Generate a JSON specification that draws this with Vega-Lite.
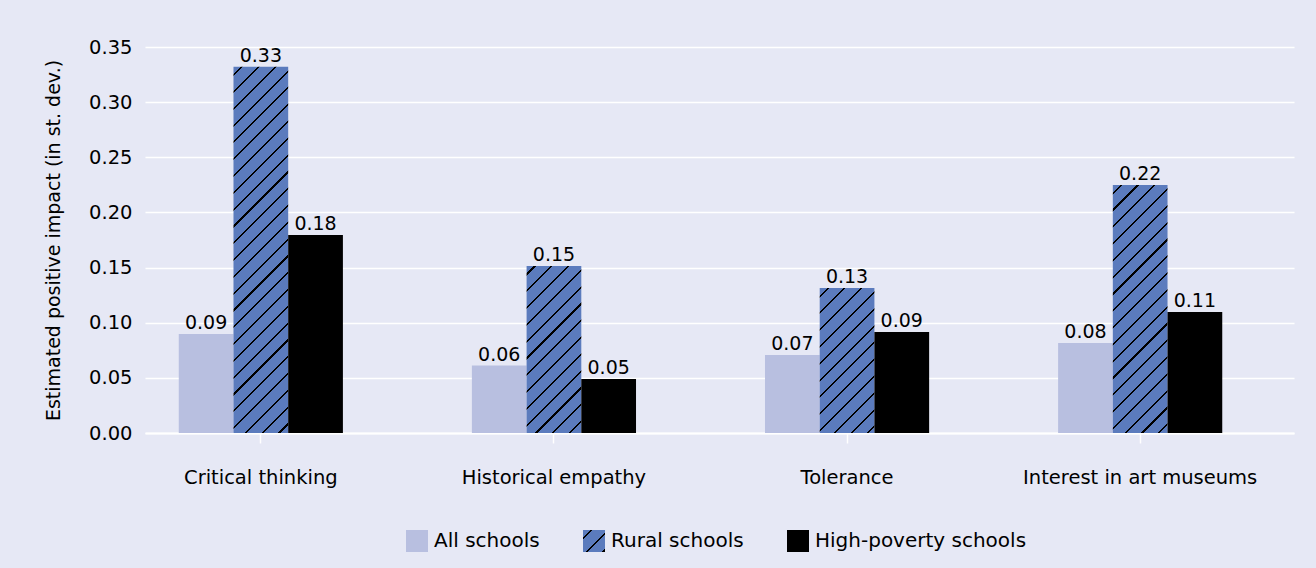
{
  "$schema": "https://vega.github.io/schema/vega-lite/v6.json",
  "autosize": {"type": "none"},
  "width": 1149,
  "height": 386,
  "padding": {"left": 145, "top": 47, "right": 22, "bottom": 135},
  "background": "#e6e8f5",
  "config": {"font": "DejaVu Sans", "view": {"stroke": null}},
  "data": {"values": [
    {"category": "Critical thinking", "group": "All schools", "value": 0.0898, "label": "0.09"},
    {"category": "Critical thinking", "group": "Rural schools", "value": 0.332, "label": "0.33"},
    {"category": "Critical thinking", "group": "High-poverty schools", "value": 0.1795, "label": "0.18"},
    {"category": "Historical empathy", "group": "All schools", "value": 0.0612, "label": "0.06"},
    {"category": "Historical empathy", "group": "Rural schools", "value": 0.1514, "label": "0.15"},
    {"category": "Historical empathy", "group": "High-poverty schools", "value": 0.049, "label": "0.05"},
    {"category": "Tolerance", "group": "All schools", "value": 0.0707, "label": "0.07"},
    {"category": "Tolerance", "group": "Rural schools", "value": 0.1315, "label": "0.13"},
    {"category": "Tolerance", "group": "High-poverty schools", "value": 0.0916, "label": "0.09"},
    {"category": "Interest in art museums", "group": "All schools", "value": 0.0816, "label": "0.08"},
    {"category": "Interest in art museums", "group": "Rural schools", "value": 0.2249, "label": "0.22"},
    {"category": "Interest in art museums", "group": "High-poverty schools", "value": 0.1097, "label": "0.11"}
  ]},
  "encoding": {
    "x": {
      "field": "category", "type": "nominal",
      "sort": ["Critical thinking", "Historical empathy", "Tolerance", "Interest in art museums"],
      "scale": {"paddingInner": 0.44, "paddingOuter": 0.18, "align": 0.32},
      "axis": {"title": null, "labelAngle": 0, "labelFontSize": 19.5, "labelPadding": 25, "labelColor": "#000000", "labelLimit": 0,
               "tickSize": 10, "tickColor": "#ffffff", "tickWidth": 1.5, "domainColor": "#ffffff", "domainWidth": 2, "grid": false}
    },
    "xOffset": {"field": "group", "type": "nominal", "sort": ["All schools", "Rural schools", "High-poverty schools"]},
    "y": {
      "field": "value", "type": "quantitative",
      "scale": {"domain": [0, 0.35]},
      "axis": {"values": [0, 0.05, 0.1, 0.15, 0.2, 0.25, 0.3, 0.35], "format": ".2f", "grid": true, "gridColor": "#ffffff", "gridWidth": 1.5,
               "ticks": false, "domain": false, "labelFontSize": 19.5, "labelPadding": 13, "labelColor": "#000000",
               "title": "Estimated positive impact (in st. dev.)", "titleFontSize": 19, "titleFontWeight": "normal", "titleColor": "#000000", "titlePadding": 25}
    }
  },
  "layer": [
    {
      "mark": {"type": "bar"},
      "encoding": {
        "color": {
          "field": "group", "type": "nominal",
          "scale": {"domain": ["All schools", "Rural schools", "High-poverty schools"], "range": ["#b8bfe0",
            {"expr": "{gradient:'linear',x1:0,y1:0,x2:9.5455,y2:9.5455,stops:[{offset:0,color:'#5b7bbd'},{offset:0.0175,color:'#5b7bbd'},{offset:0.0175,color:'#000000'},{offset:0.0225,color:'#000000'},{offset:0.0225,color:'#5b7bbd'},{offset:0.0575,color:'#5b7bbd'},{offset:0.0575,color:'#000000'},{offset:0.0625,color:'#000000'},{offset:0.0625,color:'#5b7bbd'},{offset:0.0975,color:'#5b7bbd'},{offset:0.0975,color:'#000000'},{offset:0.1025,color:'#000000'},{offset:0.1025,color:'#5b7bbd'}]}"},
            "#000000"]},
          "legend": {
            "orient": "none", "legendX": 261, "legendY": 483, "direction": "horizontal", "title": null,
            "symbolType": "square", "symbolSize": 484, "symbolStrokeWidth": 0, "labelFontSize": 20, "labelColor": "#000000", "labelLimit": 0,
            "labelOffset": 6, "columnPadding": 43, "padding": 0
          },
          "condition": [
            {"test": "datum.group === 'Rural schools' && datum.category === 'Critical thinking'",
             "value": {"gradient": "linear", "x1": 0, "y1": 0, "x2": 0.1677, "y2": 1.1222, "stops": [
              {"offset":0,"color":"#5b7bbd"},
              {"offset":0.0175,"color":"#5b7bbd"},{"offset":0.0175,"color":"#000000"},{"offset":0.0225,"color":"#000000"},{"offset":0.0225,"color":"#5b7bbd"},
              {"offset":0.0575,"color":"#5b7bbd"},{"offset":0.0575,"color":"#000000"},{"offset":0.0625,"color":"#000000"},{"offset":0.0625,"color":"#5b7bbd"},
              {"offset":0.0975,"color":"#5b7bbd"},{"offset":0.0975,"color":"#000000"},{"offset":0.1025,"color":"#000000"},{"offset":0.1025,"color":"#5b7bbd"},
              {"offset":0.1375,"color":"#5b7bbd"},{"offset":0.1375,"color":"#000000"},{"offset":0.1425,"color":"#000000"},{"offset":0.1425,"color":"#5b7bbd"},
              {"offset":0.1775,"color":"#5b7bbd"},{"offset":0.1775,"color":"#000000"},{"offset":0.1825,"color":"#000000"},{"offset":0.1825,"color":"#5b7bbd"},
              {"offset":0.2175,"color":"#5b7bbd"},{"offset":0.2175,"color":"#000000"},{"offset":0.2225,"color":"#000000"},{"offset":0.2225,"color":"#5b7bbd"},
              {"offset":0.2575,"color":"#5b7bbd"},{"offset":0.2575,"color":"#000000"},{"offset":0.2625,"color":"#000000"},{"offset":0.2625,"color":"#5b7bbd"},
              {"offset":0.2975,"color":"#5b7bbd"},{"offset":0.2975,"color":"#000000"},{"offset":0.3025,"color":"#000000"},{"offset":0.3025,"color":"#5b7bbd"},
              {"offset":0.3375,"color":"#5b7bbd"},{"offset":0.3375,"color":"#000000"},{"offset":0.3425,"color":"#000000"},{"offset":0.3425,"color":"#5b7bbd"},
              {"offset":0.3775,"color":"#5b7bbd"},{"offset":0.3775,"color":"#000000"},{"offset":0.3825,"color":"#000000"},{"offset":0.3825,"color":"#5b7bbd"},
              {"offset":0.4175,"color":"#5b7bbd"},{"offset":0.4175,"color":"#000000"},{"offset":0.4225,"color":"#000000"},{"offset":0.4225,"color":"#5b7bbd"},
              {"offset":0.4575,"color":"#5b7bbd"},{"offset":0.4575,"color":"#000000"},{"offset":0.4625,"color":"#000000"},{"offset":0.4625,"color":"#5b7bbd"},
              {"offset":0.4975,"color":"#5b7bbd"},{"offset":0.4975,"color":"#000000"},{"offset":0.5025,"color":"#000000"},{"offset":0.5025,"color":"#5b7bbd"},
              {"offset":0.5375,"color":"#5b7bbd"},{"offset":0.5375,"color":"#000000"},{"offset":0.5425,"color":"#000000"},{"offset":0.5425,"color":"#5b7bbd"},
              {"offset":0.5775,"color":"#5b7bbd"},{"offset":0.5775,"color":"#000000"},{"offset":0.5825,"color":"#000000"},{"offset":0.5825,"color":"#5b7bbd"},
              {"offset":0.6175,"color":"#5b7bbd"},{"offset":0.6175,"color":"#000000"},{"offset":0.6225,"color":"#000000"},{"offset":0.6225,"color":"#5b7bbd"},
              {"offset":0.6575,"color":"#5b7bbd"},{"offset":0.6575,"color":"#000000"},{"offset":0.6625,"color":"#000000"},{"offset":0.6625,"color":"#5b7bbd"},
              {"offset":0.6975,"color":"#5b7bbd"},{"offset":0.6975,"color":"#000000"},{"offset":0.7025,"color":"#000000"},{"offset":0.7025,"color":"#5b7bbd"},
              {"offset":0.7375,"color":"#5b7bbd"},{"offset":0.7375,"color":"#000000"},{"offset":0.7425,"color":"#000000"},{"offset":0.7425,"color":"#5b7bbd"},
              {"offset":0.7775,"color":"#5b7bbd"},{"offset":0.7775,"color":"#000000"},{"offset":0.7825,"color":"#000000"},{"offset":0.7825,"color":"#5b7bbd"},
              {"offset":0.8175,"color":"#5b7bbd"},{"offset":0.8175,"color":"#000000"},{"offset":0.8225,"color":"#000000"},{"offset":0.8225,"color":"#5b7bbd"},
              {"offset":0.8575,"color":"#5b7bbd"},{"offset":0.8575,"color":"#000000"},{"offset":0.8625,"color":"#000000"},{"offset":0.8625,"color":"#5b7bbd"},
              {"offset":0.8975,"color":"#5b7bbd"},{"offset":0.8975,"color":"#000000"},{"offset":0.9025,"color":"#000000"},{"offset":0.9025,"color":"#5b7bbd"},
              {"offset":0.9375,"color":"#5b7bbd"},{"offset":0.9375,"color":"#000000"},{"offset":0.9425,"color":"#000000"},{"offset":0.9425,"color":"#5b7bbd"},
              {"offset":0.9775,"color":"#5b7bbd"},{"offset":0.9775,"color":"#000000"},{"offset":0.9825,"color":"#000000"},{"offset":0.9825,"color":"#5b7bbd"}
             ]}},
            {"test": "datum.group === 'Rural schools' && datum.category === 'Historical empathy'",
             "value": {"gradient": "linear", "x1": 0, "y1": 0, "x2": 0.7443, "y2": 2.2715, "stops": [
              {"offset":0,"color":"#5b7bbd"},
              {"offset":0.0175,"color":"#5b7bbd"},{"offset":0.0175,"color":"#000000"},{"offset":0.0225,"color":"#000000"},{"offset":0.0225,"color":"#5b7bbd"},
              {"offset":0.0575,"color":"#5b7bbd"},{"offset":0.0575,"color":"#000000"},{"offset":0.0625,"color":"#000000"},{"offset":0.0625,"color":"#5b7bbd"},
              {"offset":0.0975,"color":"#5b7bbd"},{"offset":0.0975,"color":"#000000"},{"offset":0.1025,"color":"#000000"},{"offset":0.1025,"color":"#5b7bbd"},
              {"offset":0.1375,"color":"#5b7bbd"},{"offset":0.1375,"color":"#000000"},{"offset":0.1425,"color":"#000000"},{"offset":0.1425,"color":"#5b7bbd"},
              {"offset":0.1775,"color":"#5b7bbd"},{"offset":0.1775,"color":"#000000"},{"offset":0.1825,"color":"#000000"},{"offset":0.1825,"color":"#5b7bbd"},
              {"offset":0.2175,"color":"#5b7bbd"},{"offset":0.2175,"color":"#000000"},{"offset":0.2225,"color":"#000000"},{"offset":0.2225,"color":"#5b7bbd"},
              {"offset":0.2575,"color":"#5b7bbd"},{"offset":0.2575,"color":"#000000"},{"offset":0.2625,"color":"#000000"},{"offset":0.2625,"color":"#5b7bbd"},
              {"offset":0.2975,"color":"#5b7bbd"},{"offset":0.2975,"color":"#000000"},{"offset":0.3025,"color":"#000000"},{"offset":0.3025,"color":"#5b7bbd"},
              {"offset":0.3375,"color":"#5b7bbd"},{"offset":0.3375,"color":"#000000"},{"offset":0.3425,"color":"#000000"},{"offset":0.3425,"color":"#5b7bbd"},
              {"offset":0.3775,"color":"#5b7bbd"},{"offset":0.3775,"color":"#000000"},{"offset":0.3825,"color":"#000000"},{"offset":0.3825,"color":"#5b7bbd"},
              {"offset":0.4175,"color":"#5b7bbd"},{"offset":0.4175,"color":"#000000"},{"offset":0.4225,"color":"#000000"},{"offset":0.4225,"color":"#5b7bbd"},
              {"offset":0.4575,"color":"#5b7bbd"},{"offset":0.4575,"color":"#000000"},{"offset":0.4625,"color":"#000000"},{"offset":0.4625,"color":"#5b7bbd"},
              {"offset":0.4975,"color":"#5b7bbd"},{"offset":0.4975,"color":"#000000"},{"offset":0.5025,"color":"#000000"},{"offset":0.5025,"color":"#5b7bbd"},
              {"offset":0.5375,"color":"#5b7bbd"},{"offset":0.5375,"color":"#000000"},{"offset":0.5425,"color":"#000000"},{"offset":0.5425,"color":"#5b7bbd"}
             ]}},
            {"test": "datum.group === 'Rural schools' && datum.category === 'Tolerance'",
             "value": {"gradient": "linear", "x1": 0, "y1": 0, "x2": 0.9563, "y2": 2.5352, "stops": [
              {"offset":0,"color":"#5b7bbd"},
              {"offset":0.0175,"color":"#5b7bbd"},{"offset":0.0175,"color":"#000000"},{"offset":0.0225,"color":"#000000"},{"offset":0.0225,"color":"#5b7bbd"},
              {"offset":0.0575,"color":"#5b7bbd"},{"offset":0.0575,"color":"#000000"},{"offset":0.0625,"color":"#000000"},{"offset":0.0625,"color":"#5b7bbd"},
              {"offset":0.0975,"color":"#5b7bbd"},{"offset":0.0975,"color":"#000000"},{"offset":0.1025,"color":"#000000"},{"offset":0.1025,"color":"#5b7bbd"},
              {"offset":0.1375,"color":"#5b7bbd"},{"offset":0.1375,"color":"#000000"},{"offset":0.1425,"color":"#000000"},{"offset":0.1425,"color":"#5b7bbd"},
              {"offset":0.1775,"color":"#5b7bbd"},{"offset":0.1775,"color":"#000000"},{"offset":0.1825,"color":"#000000"},{"offset":0.1825,"color":"#5b7bbd"},
              {"offset":0.2175,"color":"#5b7bbd"},{"offset":0.2175,"color":"#000000"},{"offset":0.2225,"color":"#000000"},{"offset":0.2225,"color":"#5b7bbd"},
              {"offset":0.2575,"color":"#5b7bbd"},{"offset":0.2575,"color":"#000000"},{"offset":0.2625,"color":"#000000"},{"offset":0.2625,"color":"#5b7bbd"},
              {"offset":0.2975,"color":"#5b7bbd"},{"offset":0.2975,"color":"#000000"},{"offset":0.3025,"color":"#000000"},{"offset":0.3025,"color":"#5b7bbd"},
              {"offset":0.3375,"color":"#5b7bbd"},{"offset":0.3375,"color":"#000000"},{"offset":0.3425,"color":"#000000"},{"offset":0.3425,"color":"#5b7bbd"},
              {"offset":0.3775,"color":"#5b7bbd"},{"offset":0.3775,"color":"#000000"},{"offset":0.3825,"color":"#000000"},{"offset":0.3825,"color":"#5b7bbd"},
              {"offset":0.4175,"color":"#5b7bbd"},{"offset":0.4175,"color":"#000000"},{"offset":0.4225,"color":"#000000"},{"offset":0.4225,"color":"#5b7bbd"},
              {"offset":0.4575,"color":"#5b7bbd"},{"offset":0.4575,"color":"#000000"},{"offset":0.4625,"color":"#000000"},{"offset":0.4625,"color":"#5b7bbd"},
              {"offset":0.4975,"color":"#5b7bbd"},{"offset":0.4975,"color":"#000000"},{"offset":0.5025,"color":"#000000"},{"offset":0.5025,"color":"#5b7bbd"}
             ]}},
            {"test": "datum.group === 'Rural schools' && datum.category === 'Interest in art museums'",
             "value": {"gradient": "linear", "x1": 0, "y1": 0, "x2": 0.3562, "y2": 1.6148, "stops": [
              {"offset":0,"color":"#5b7bbd"},
              {"offset":0.0175,"color":"#5b7bbd"},{"offset":0.0175,"color":"#000000"},{"offset":0.0225,"color":"#000000"},{"offset":0.0225,"color":"#5b7bbd"},
              {"offset":0.0575,"color":"#5b7bbd"},{"offset":0.0575,"color":"#000000"},{"offset":0.0625,"color":"#000000"},{"offset":0.0625,"color":"#5b7bbd"},
              {"offset":0.0975,"color":"#5b7bbd"},{"offset":0.0975,"color":"#000000"},{"offset":0.1025,"color":"#000000"},{"offset":0.1025,"color":"#5b7bbd"},
              {"offset":0.1375,"color":"#5b7bbd"},{"offset":0.1375,"color":"#000000"},{"offset":0.1425,"color":"#000000"},{"offset":0.1425,"color":"#5b7bbd"},
              {"offset":0.1775,"color":"#5b7bbd"},{"offset":0.1775,"color":"#000000"},{"offset":0.1825,"color":"#000000"},{"offset":0.1825,"color":"#5b7bbd"},
              {"offset":0.2175,"color":"#5b7bbd"},{"offset":0.2175,"color":"#000000"},{"offset":0.2225,"color":"#000000"},{"offset":0.2225,"color":"#5b7bbd"},
              {"offset":0.2575,"color":"#5b7bbd"},{"offset":0.2575,"color":"#000000"},{"offset":0.2625,"color":"#000000"},{"offset":0.2625,"color":"#5b7bbd"},
              {"offset":0.2975,"color":"#5b7bbd"},{"offset":0.2975,"color":"#000000"},{"offset":0.3025,"color":"#000000"},{"offset":0.3025,"color":"#5b7bbd"},
              {"offset":0.3375,"color":"#5b7bbd"},{"offset":0.3375,"color":"#000000"},{"offset":0.3425,"color":"#000000"},{"offset":0.3425,"color":"#5b7bbd"},
              {"offset":0.3775,"color":"#5b7bbd"},{"offset":0.3775,"color":"#000000"},{"offset":0.3825,"color":"#000000"},{"offset":0.3825,"color":"#5b7bbd"},
              {"offset":0.4175,"color":"#5b7bbd"},{"offset":0.4175,"color":"#000000"},{"offset":0.4225,"color":"#000000"},{"offset":0.4225,"color":"#5b7bbd"},
              {"offset":0.4575,"color":"#5b7bbd"},{"offset":0.4575,"color":"#000000"},{"offset":0.4625,"color":"#000000"},{"offset":0.4625,"color":"#5b7bbd"},
              {"offset":0.4975,"color":"#5b7bbd"},{"offset":0.4975,"color":"#000000"},{"offset":0.5025,"color":"#000000"},{"offset":0.5025,"color":"#5b7bbd"},
              {"offset":0.5375,"color":"#5b7bbd"},{"offset":0.5375,"color":"#000000"},{"offset":0.5425,"color":"#000000"},{"offset":0.5425,"color":"#5b7bbd"},
              {"offset":0.5775,"color":"#5b7bbd"},{"offset":0.5775,"color":"#000000"},{"offset":0.5825,"color":"#000000"},{"offset":0.5825,"color":"#5b7bbd"},
              {"offset":0.6175,"color":"#5b7bbd"},{"offset":0.6175,"color":"#000000"},{"offset":0.6225,"color":"#000000"},{"offset":0.6225,"color":"#5b7bbd"},
              {"offset":0.6575,"color":"#5b7bbd"},{"offset":0.6575,"color":"#000000"},{"offset":0.6625,"color":"#000000"},{"offset":0.6625,"color":"#5b7bbd"},
              {"offset":0.6975,"color":"#5b7bbd"},{"offset":0.6975,"color":"#000000"},{"offset":0.7025,"color":"#000000"},{"offset":0.7025,"color":"#5b7bbd"},
              {"offset":0.7375,"color":"#5b7bbd"},{"offset":0.7375,"color":"#000000"},{"offset":0.7425,"color":"#000000"},{"offset":0.7425,"color":"#5b7bbd"}
             ]}}
          ]
        }
      }
    },
    {
      "mark": {"type": "text", "baseline": "bottom", "align": "center", "dy": -1, "fontSize": 19, "color": "#000000"},
      "encoding": {"text": {"field": "label", "type": "nominal"}}
    }
  ]
}
